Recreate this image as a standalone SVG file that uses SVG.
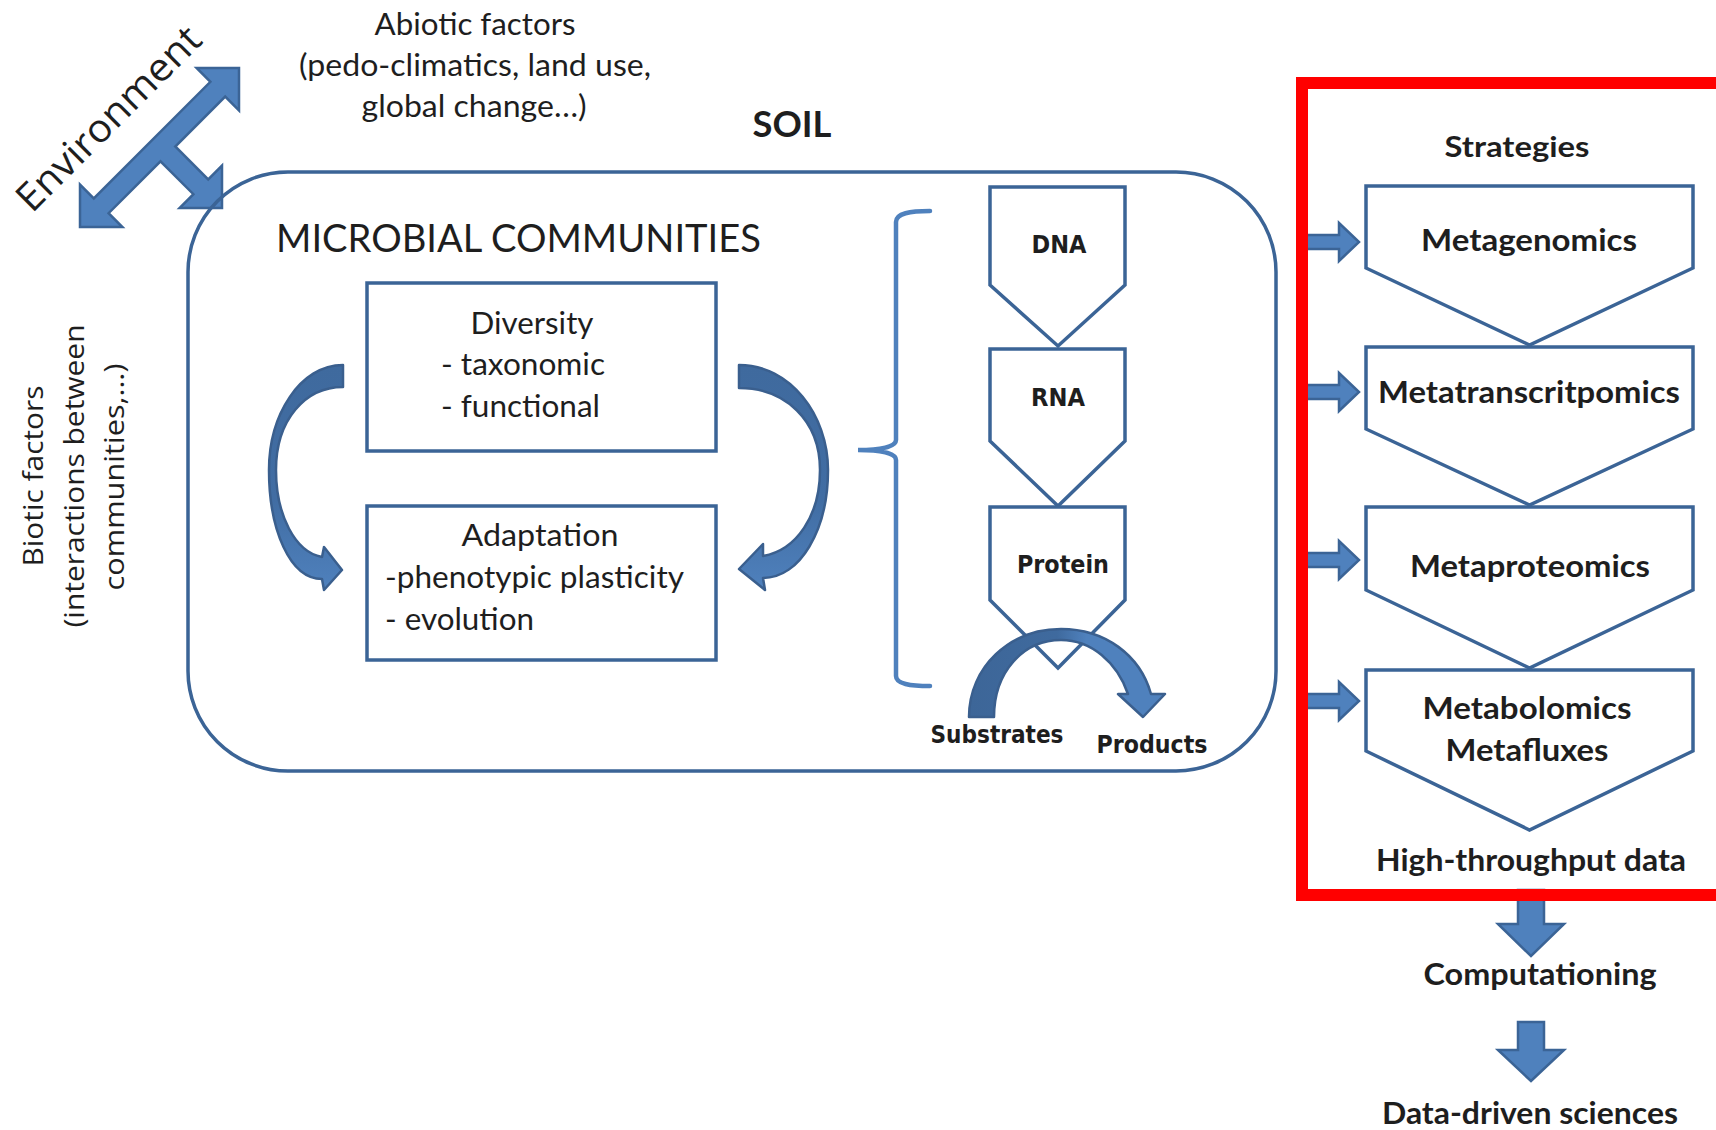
<svg xmlns="http://www.w3.org/2000/svg" width="1716" height="1130" viewBox="0 0 1716 1130">
<defs>
<style>
.t{font-family:Lato,'Liberation Sans',sans-serif;fill:#1e1e1e}
.r{font-size:31px}
.b{font-weight:bold}
.mid{text-anchor:middle}
.d{font-family:'DejaVu Sans','Liberation Sans',sans-serif;font-weight:bold;font-size:25px;fill:#1e1e1e;text-anchor:middle}
.o{font-family:'Open Sans','Liberation Sans',sans-serif;fill:#1e1e1e;text-anchor:middle}
.box{fill:#fff;stroke:#3B6496;stroke-width:3.5}
.arw{fill:#4F81BD;stroke:#3B6496;stroke-width:2.5}
.carw{stroke:#3A5F8E;stroke-width:2.5;stroke-linejoin:round}
</style>
<linearGradient id="gv" x1="0" y1="0" x2="0" y2="1">
<stop offset="0" stop-color="#3F6A9E"/><stop offset="0.6" stop-color="#416DA3"/><stop offset="1" stop-color="#4F81BD"/>
</linearGradient>
<linearGradient id="gh" x1="0" y1="0" x2="1" y2="0">
<stop offset="0" stop-color="#3D6698"/><stop offset="0.45" stop-color="#3F6A9E"/><stop offset="0.6" stop-color="#4F81BD"/><stop offset="1" stop-color="#4F81BD"/>
</linearGradient>
</defs>
<rect width="1716" height="1130" fill="#fff"/>

<g id="abiotic-label">
<text class="t r mid" x="475" y="35" textLength="201" lengthAdjust="spacingAndGlyphs">Abiotic factors</text>
<text class="t r mid" x="475" y="76" textLength="352" lengthAdjust="spacingAndGlyphs">(pedo-climatics, land use,</text>
<text class="t r mid" x="474" y="117" textLength="225" lengthAdjust="spacingAndGlyphs">global change…)</text>
</g>

<g id="environment">
<path class="arw" d="M239,68 L239,110.4 L225.2,96.6 L175.3,146.5 L208.2,179.4 L222,165.6 L222,208 L179.6,208 L193.4,194.2 L160.5,161.3 L108.6,213.2 L122.4,227 L80,227 L80,184.6 L93.8,198.4 L210.4,81.8 L196.6,68 Z"/>
<text class="o" font-size="39" transform="translate(118,128) rotate(-45)" textLength="243" lengthAdjust="spacingAndGlyphs">Environment</text>
</g>

<g id="soil-label">
<text class="t b mid" x="792" y="137" font-size="37" textLength="79" lengthAdjust="spacingAndGlyphs">SOIL</text>
</g>

<g id="soil">
<rect x="188" y="172" width="1088" height="599" rx="100" ry="100" fill="none" stroke="#3B6496" stroke-width="3.5"/>
<text class="t" x="276" y="252" font-size="38" textLength="485" lengthAdjust="spacingAndGlyphs">MICROBIAL COMMUNITIES</text>
</g>

<g id="biotic-label">
<text class="o" font-size="28" transform="translate(43,476) rotate(-90)" textLength="181" lengthAdjust="spacingAndGlyphs">Biotic factors</text>
<text class="o" font-size="28" transform="translate(84,476) rotate(-90)" textLength="303" lengthAdjust="spacingAndGlyphs">(interactions between</text>
<text class="o" font-size="28" transform="translate(124,477) rotate(-90)" textLength="227" lengthAdjust="spacingAndGlyphs">communities,…)</text>
</g>

<g id="diversity">
<rect class="box" x="367" y="283" width="349" height="168"/>
<text class="t r mid" x="532" y="334" textLength="123" lengthAdjust="spacingAndGlyphs">Diversity</text>
<text class="t r" x="441" y="375" textLength="164" lengthAdjust="spacingAndGlyphs">- taxonomic</text>
<text class="t r" x="441" y="417" textLength="159" lengthAdjust="spacingAndGlyphs">- functional</text>
</g>

<g id="adaptation">
<rect class="box" x="367" y="506" width="349" height="154"/>
<text class="t r mid" x="540" y="546" textLength="157" lengthAdjust="spacingAndGlyphs">Adaptation</text>
<text class="t r" x="385" y="588" textLength="299" lengthAdjust="spacingAndGlyphs">-phenotypic plasticity</text>
<text class="t r" x="385" y="630" textLength="149" lengthAdjust="spacingAndGlyphs">- evolution</text>
</g>

<g id="dna">
<polygon class="box" points="990,187 1125,187 1125,285 1058,346 990,285"/>
<text class="d" x="1059" y="253" textLength="55" lengthAdjust="spacingAndGlyphs">DNA</text>
</g>
<g id="rna">
<polygon class="box" points="990,349 1125,349 1125,441 1058,506 990,441"/>
<text class="d" x="1058" y="406" textLength="54" lengthAdjust="spacingAndGlyphs">RNA</text>
</g>
<g id="protein">
<polygon class="box" points="990,507 1125,507 1125,600 1058,668 990,600"/>
<text class="d" x="1063" y="573" textLength="92" lengthAdjust="spacingAndGlyphs">Protein</text>
</g>

<g id="substrates-products">
<text class="d" x="997" y="743" textLength="133" lengthAdjust="spacingAndGlyphs">Substrates</text>
<text class="d" x="1152" y="753" textLength="111" lengthAdjust="spacingAndGlyphs">Products</text>
</g>

<g id="strategies-label">
<text class="t b mid" x="1517" y="157" font-size="29" textLength="145" lengthAdjust="spacingAndGlyphs">Strategies</text>
</g>

<g id="metagenomics">
<polygon class="box" points="1366,186 1693,186 1693,268 1529.5,345 1366,268"/>
<text class="t b mid" x="1529" y="251" font-size="30" textLength="216" lengthAdjust="spacingAndGlyphs">Metagenomics</text>
</g>
<g id="metatranscriptomics">
<polygon class="box" points="1366,347 1693,347 1693,429 1529.5,505 1366,429"/>
<text class="t b mid" x="1529" y="403" font-size="30" textLength="302" lengthAdjust="spacingAndGlyphs">Metatranscritpomics</text>
</g>
<g id="metaproteomics">
<polygon class="box" points="1366,507 1693,507 1693,590 1529.5,668 1366,590"/>
<text class="t b mid" x="1530" y="577" font-size="30" textLength="240" lengthAdjust="spacingAndGlyphs">Metaproteomics</text>
</g>
<g id="metabolomics">
<polygon class="box" points="1366,670 1693,670 1693,751 1529.5,830 1366,751"/>
<text class="t b mid" x="1527" y="719" font-size="30" textLength="209" lengthAdjust="spacingAndGlyphs">Metabolomics</text>
<text class="t b mid" x="1527" y="761" font-size="30" textLength="163" lengthAdjust="spacingAndGlyphs">Metafluxes</text>
</g>

<g id="high-throughput-label">
<text class="t b mid" x="1531" y="871" font-size="30" textLength="310" lengthAdjust="spacingAndGlyphs">High-throughput data</text>
</g>
<g id="computationing">
<text class="t b mid" x="1540" y="985" font-size="30" textLength="233" lengthAdjust="spacingAndGlyphs">Computationing</text>
</g>
<g id="data-driven">
<text class="t b mid" x="1530" y="1124" font-size="30" textLength="296" lengthAdjust="spacingAndGlyphs">Data-driven sciences</text>
</g>

<g id="connectors">
<path fill="none" stroke="#4F81BD" stroke-width="4.5" stroke-linecap="round" d="M930,211 C910,211 896,213 896,222 L896,440 C896,447 880,450 858,450 C880,450 896,453 896,460 L896,676 C896,684 910,686 930,686"/>
<path class="carw" fill="url(#gv)" d="M343,365 C300,365 269,415 269,470 C269,530 290,579 322,579 L324,590 L342,570 L324,547 L322,557 C295,552 276,515 276,470 C276,420 305,387 343,387 Z"/>
<path class="carw" fill="url(#gv)" d="M739,365 C790,365 828,415 828,470 C828,530 800,578 763,578 L765,590 L739,569 L763,544 L763,556 C797,550 820,515 820,470 C820,420 785,388 739,388 Z"/>
<path class="carw" fill="url(#gh)" d="M969,717 C969,667 1010,629 1061,629 C1105,629 1140,655 1151,694 L1165,694 L1143,717 L1118,694 L1128,694 C1117,662 1091,640 1061,640 C1023,640 994,672 994,717 Z"/>
<path class="arw" d="M1298,235 L1339,235 L1339,223 L1359,242 L1339,261 L1339,249 L1298,249 Z"/>
<path class="arw" d="M1298,385 L1339,385 L1339,373 L1359,392 L1339,411 L1339,399 L1298,399 Z"/>
<path class="arw" d="M1298,553 L1339,553 L1339,541 L1359,560 L1339,579 L1339,567 L1298,567 Z"/>
<path class="arw" d="M1298,694 L1339,694 L1339,682 L1359,701 L1339,720 L1339,708 L1298,708 Z"/>
<path class="arw" d="M1518,890 L1544,890 L1544,924 L1564,924 L1531,956 L1498,924 L1518,924 Z"/>
<path class="arw" d="M1518,1022 L1544,1022 L1544,1050 L1564,1050 L1531,1081 L1498,1050 L1518,1050 Z"/>
<rect x="1302" y="83" width="500" height="812" fill="none" stroke="#FF0000" stroke-width="12"/>
</g>
</svg>
